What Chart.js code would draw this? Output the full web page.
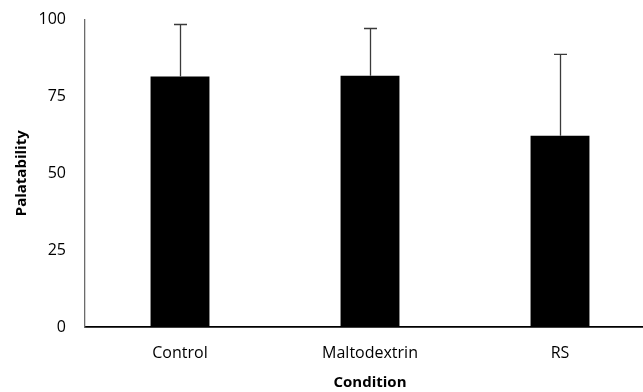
<!DOCTYPE html>
<html>
<head>
<meta charset="utf-8">
<script src="https://cdn.jsdelivr.net/npm/chart.js@4"></script>
<style>
html,body{margin:0;padding:0;background:#fff;overflow:hidden;}
#wrap{position:absolute;left:0;top:-9px;width:655px;height:401px;}
</style>
</head>
<body>
<div id="wrap"><canvas id="c" width="655" height="401"></canvas></div>
<script>
const categories = ["Control", "Maltodextrin", "RS"];
const means = [81.5, 81.7, 62.2];
const sds = [16.9, 15.4, 26.5];
const yTicks = [0, 25, 50, 75, 100];

const FONT = "'Open Sans', 'Noto Sans', sans-serif";

const errorBars = {
  id: 'errorBars',
  afterDatasetsDraw(chart) {
    const ctx = chart.ctx;
    const meta = chart.getDatasetMeta(0);
    const y = chart.scales.y;
    ctx.save();
    ctx.strokeStyle = '#3a3a3a';
    ctx.lineWidth = 1.3;
    meta.data.forEach((bar, i) => {
      const x = Math.round(bar.x) + 0.5;
      const yTop = y.getPixelForValue(means[i] + sds[i]);
      const yBase = y.getPixelForValue(means[i]);
      ctx.beginPath();
      ctx.moveTo(x, yBase);
      ctx.lineTo(x, yTop);
      ctx.moveTo(x - 6.5, yTop);
      ctx.lineTo(x + 6.5, yTop);
      ctx.stroke();
    });
    ctx.restore();
  }
};

new Chart(document.getElementById('c'), {
  type: 'bar',
  data: {
    labels: categories,
    datasets: [{
      data: means,
      backgroundColor: '#000000',
      borderColor: '#000000',
      borderWidth: 0,
      barPercentage: 1,
      categoryPercentage: 0.31
    }]
  },
  options: {
    responsive: false,
    animation: false,
    layout: { padding: { left: 0, right: 0, top: 8, bottom: 0 } },
    plugins: { legend: { display: false }, tooltip: { enabled: false } },
    scales: {
      x: {
        grid: { display: false, drawTicks: false },
        border: { display: true, color: '#000000', width: 1.8 },
        ticks: { color: '#000', font: { family: FONT, size: 16 }, padding: 17, maxRotation: 0 },
        title: { display: true, text: 'Condition', color: '#000', font: { family: FONT, size: 15, weight: 'bold' }, padding: { top: 4, bottom: 0 } },
        afterFit(s) { s.height = 65; }
      },
      y: {
        min: 0, max: 100,
        afterBuildTicks(s) { s.ticks = yTicks.map(v => ({ value: v })); },
        grid: { display: false, drawTicks: false },
        border: { display: true, color: '#6b6b6b', width: 1.3 },
        ticks: { color: '#000', font: { family: FONT, size: 16 }, padding: 19 },
        title: { display: true, text: 'Palatability', color: '#000', font: { family: FONT, size: 15, weight: 'bold' }, padding: { top: 13, bottom: 4 } },
        afterFit(s) { s.width = 85; }
      }
    }
  },
  plugins: [errorBars]
});
</script>
</body>
</html>
